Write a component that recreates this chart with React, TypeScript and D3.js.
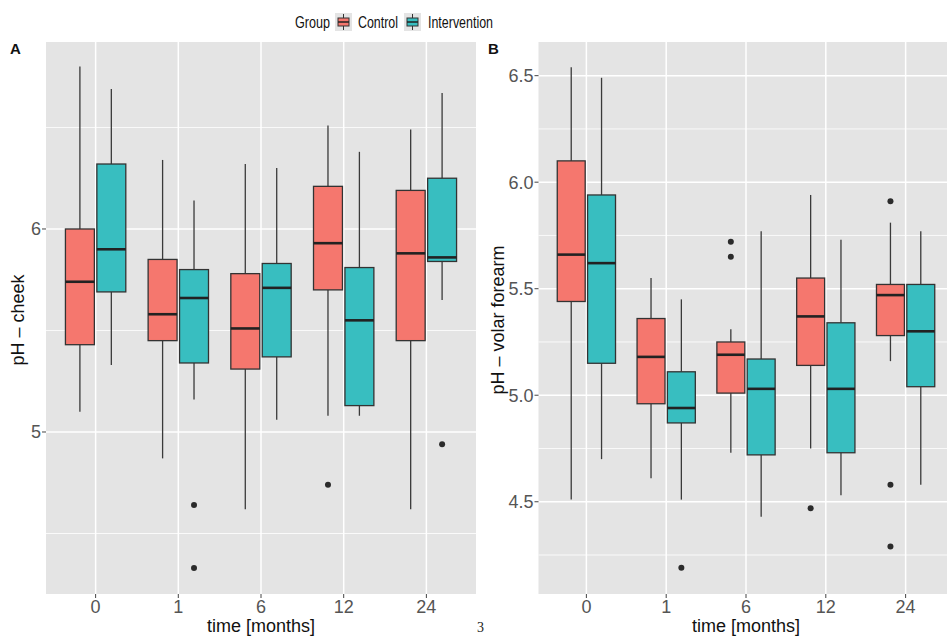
import React, { useRef, useEffect } from "react";
import * as d3 from "d3";

const months = ["0", "1", "6", "12", "24"];
const groups = ["Control", "Intervention"];
const groupColors = ["#F5776E", "#38BEC0"];

// A: pH - cheek
const cheekControlLow = [5.1, 4.87, 4.62, 5.08, 4.62];
const cheekControlQ1 = [5.43, 5.45, 5.31, 5.7, 5.45];
const cheekControlMed = [5.74, 5.58, 5.51, 5.93, 5.88];
const cheekControlQ3 = [6.0, 5.85, 5.78, 6.21, 6.19];
const cheekControlHigh = [6.8, 6.34, 6.32, 6.51, 6.49];
const cheekControlOut = [[], [], [], [4.74], []];

const cheekInterLow = [5.33, 5.16, 5.06, 5.08, 5.65];
const cheekInterQ1 = [5.69, 5.34, 5.37, 5.13, 5.84];
const cheekInterMed = [5.9, 5.66, 5.71, 5.55, 5.86];
const cheekInterQ3 = [6.32, 5.8, 5.83, 5.81, 6.25];
const cheekInterHigh = [6.69, 6.14, 6.3, 6.38, 6.67];
const cheekInterOut = [[], [4.64, 4.33], [], [], [4.94]];

// B: pH - volar forearm
const forearmControlLow = [4.51, 4.61, 4.73, 4.75, 5.16];
const forearmControlQ1 = [5.44, 4.96, 5.01, 5.14, 5.28];
const forearmControlMed = [5.66, 5.18, 5.19, 5.37, 5.47];
const forearmControlQ3 = [6.1, 5.36, 5.25, 5.55, 5.52];
const forearmControlHigh = [6.54, 5.55, 5.31, 5.94, 5.81];
const forearmControlOut = [[], [], [5.72, 5.65], [4.47], [5.91, 4.58, 4.29]];

const forearmInterLow = [4.7, 4.51, 4.43, 4.53, 4.58];
const forearmInterQ1 = [5.15, 4.87, 4.72, 4.73, 5.04];
const forearmInterMed = [5.62, 4.94, 5.03, 5.03, 5.3];
const forearmInterQ3 = [5.94, 5.11, 5.17, 5.34, 5.52];
const forearmInterHigh = [6.49, 5.45, 5.77, 5.73, 5.77];
const forearmInterOut = [[], [4.19], [], [], []];

const cheekMajor = [5, 6];
const cheekMinor = [4.5, 5.5, 6.5];
const forearmMajor = [4.5, 5.0, 5.5, 6.0, 6.5];
const forearmMinor = [4.25, 4.75, 5.25, 5.75, 6.25];

const makeStats = (low, q1, med, q3, high, out) =>
  months.map((m, i) => ({ low: low[i], q1: q1[i], med: med[i], q3: q3[i], high: high[i], out: out[i] }));

const panels = [
  {
    label: "A",
    yTitle: "pH \u2013 cheek",
    left: 46, right: 476, top: 42, bottom: 594,
    domain: [4.202, 6.921],
    major: cheekMajor, minor: cheekMinor, fmt: d3.format("d"),
    series: [
      makeStats(cheekControlLow, cheekControlQ1, cheekControlMed, cheekControlQ3, cheekControlHigh, cheekControlOut),
      makeStats(cheekInterLow, cheekInterQ1, cheekInterMed, cheekInterQ3, cheekInterHigh, cheekInterOut),
    ],
    yTitleX: 24, labelX: 10,
  },
  {
    label: "B",
    yTitle: "pH \u2013 volar forearm",
    left: 538.5, right: 953.5, top: 42, bottom: 594,
    domain: [4.067, 6.658],
    major: forearmMajor, minor: forearmMinor, fmt: d3.format(".1f"),
    series: [
      makeStats(forearmControlLow, forearmControlQ1, forearmControlMed, forearmControlQ3, forearmControlHigh, forearmControlOut),
      makeStats(forearmInterLow, forearmInterQ1, forearmInterMed, forearmInterQ3, forearmInterHigh, forearmInterOut),
    ],
    yTitleX: 504, labelX: 488,
  },
];

const font = "'Liberation Sans', Arial, sans-serif";

const App = () => {
  const svgRef = useRef(null);

  useEffect(() => {
    document.body.style.margin = "0";
    const svg = d3.select(svgRef.current);
    svg.selectAll("*").remove();
    svg.attr("width", 947).attr("height", 637).style("display", "block").style("background", "#fff");

    panels.forEach((p) => {
      const g = svg.append("g");
      const x = d3.scaleBand().domain(months).range([p.left, p.right]).paddingInner(0).paddingOuter(0.1);
      const step = x.step();
      const dodge = d3.scaleBand().domain(groups).range([-0.38 * step, 0.38 * step]);
      const boxW = 0.35 * step;
      const y = d3.scaleLinear().domain(p.domain).range([p.bottom, p.top]);
      const cx = (m) => x(m) + x.bandwidth() / 2;

      g.append("rect")
        .attr("x", p.left).attr("y", p.top)
        .attr("width", p.right - p.left).attr("height", p.bottom - p.top)
        .attr("fill", "#E4E4E4");

      g.selectAll(".minor").data(p.minor).enter().append("line")
        .attr("x1", p.left).attr("x2", p.right)
        .attr("y1", (d) => y(d)).attr("y2", (d) => y(d))
        .attr("stroke", "#fff").attr("stroke-width", 0.8);
      g.selectAll(".major").data(p.major).enter().append("line")
        .attr("x1", p.left).attr("x2", p.right)
        .attr("y1", (d) => y(d)).attr("y2", (d) => y(d))
        .attr("stroke", "#fff").attr("stroke-width", 1.5);
      g.selectAll(".vgrid").data(months).enter().append("line")
        .attr("x1", cx).attr("x2", cx)
        .attr("y1", p.top).attr("y2", p.bottom)
        .attr("stroke", "#fff").attr("stroke-width", 1.5);

      p.series.forEach((stats, gi) => {
        const off = dodge(groups[gi]) + dodge.bandwidth() / 2;
        const bg = g.append("g");
        stats.forEach((s, i) => {
          const c = cx(months[i]) + off;
          bg.append("line").attr("x1", c).attr("x2", c)
            .attr("y1", y(s.high)).attr("y2", y(s.q3))
            .attr("stroke", "#3a3a3a").attr("stroke-width", 1.3);
          bg.append("line").attr("x1", c).attr("x2", c)
            .attr("y1", y(s.q1)).attr("y2", y(s.low))
            .attr("stroke", "#3a3a3a").attr("stroke-width", 1.3);
          bg.append("rect")
            .attr("x", c - boxW / 2).attr("y", y(s.q3))
            .attr("width", boxW).attr("height", y(s.q1) - y(s.q3))
            .attr("fill", groupColors[gi]).attr("stroke", "#333").attr("stroke-width", 1.3);
          bg.append("line")
            .attr("x1", c - boxW / 2).attr("x2", c + boxW / 2)
            .attr("y1", y(s.med)).attr("y2", y(s.med))
            .attr("stroke", "#222").attr("stroke-width", 2.6);
          s.out.forEach((v) => {
            bg.append("circle").attr("cx", c).attr("cy", y(v)).attr("r", 3).attr("fill", "#2b2b2b");
          });
        });
      });

      // y axis
      const yAxis = g.append("g");
      p.major.forEach((t) => {
        yAxis.append("line").attr("x1", p.left - 4).attr("x2", p.left)
          .attr("y1", y(t)).attr("y2", y(t)).attr("stroke", "#444").attr("stroke-width", 1);
        yAxis.append("text").attr("x", p.left - 5).attr("y", y(t)).attr("dy", "0.36em")
          .attr("text-anchor", "end").attr("font-family", font).attr("font-size", 18)
          .attr("fill", "#555").text(p.fmt(t));
      });
      // x axis
      months.forEach((m) => {
        g.append("line").attr("x1", cx(m)).attr("x2", cx(m))
          .attr("y1", p.bottom).attr("y2", p.bottom + 4).attr("stroke", "#444").attr("stroke-width", 1);
        g.append("text").attr("x", cx(m)).attr("y", 613)
          .attr("text-anchor", "middle").attr("font-family", font).attr("font-size", 18)
          .attr("fill", "#555").text(m);
      });

      const midX = (cx(months[0]) + cx(months[4])) / 2;
      g.append("text").attr("x", midX).attr("y", 632)
        .attr("text-anchor", "middle").attr("font-family", font).attr("font-size", 18)
        .attr("fill", "#111").text("time [months]");
      g.append("text")
        .attr("transform", `translate(${p.yTitleX},${(p.top + p.bottom) / 2 + 2}) rotate(-90)`)
        .attr("text-anchor", "middle").attr("font-family", font).attr("font-size", 18)
        .attr("fill", "#111").text(p.yTitle);
      g.append("text").attr("x", p.labelX).attr("y", 54)
        .attr("font-family", font).attr("font-size", 15).attr("font-weight", "bold")
        .attr("fill", "#111").text(p.label);
    });

    // legend
    const lg = svg.append("g");
    lg.append("text").attr("x", 295).attr("y", 28).attr("font-family", font)
      .attr("font-size", 16).attr("fill", "#111").attr("textLength", 35)
      .attr("lengthAdjust", "spacingAndGlyphs").text("Group");
    const keyX = [335, 404];
    const labelX = [358, 428];
    const labelW = [40, 65];
    groups.forEach((gname, i) => {
      const k = lg.append("g").attr("transform", `translate(${keyX[i]},13)`);
      k.append("rect").attr("width", 17).attr("height", 18).attr("fill", "#E4E4E4");
      k.append("line").attr("x1", 8.5).attr("x2", 8.5).attr("y1", 1).attr("y2", 17)
        .attr("stroke", "#333").attr("stroke-width", 1);
      k.append("rect").attr("x", 3).attr("y", 5).attr("width", 11).attr("height", 8)
        .attr("fill", groupColors[i]).attr("stroke", "#333").attr("stroke-width", 1);
      k.append("line").attr("x1", 3).attr("x2", 14).attr("y1", 9).attr("y2", 9)
        .attr("stroke", "#222").attr("stroke-width", 1.5);
      lg.append("text").attr("x", labelX[i]).attr("y", 28).attr("font-family", font)
        .attr("font-size", 16).attr("fill", "#111").attr("textLength", labelW[i])
        .attr("lengthAdjust", "spacingAndGlyphs").text(gname);
    });

    // page number from the source page
    svg.append("text").attr("x", 477).attr("y", 632).attr("font-family", "'Liberation Serif', serif")
      .attr("font-size", 14).attr("fill", "#222").text("3");
  }, []);

  return <svg ref={svgRef}></svg>;
};

export default App;
